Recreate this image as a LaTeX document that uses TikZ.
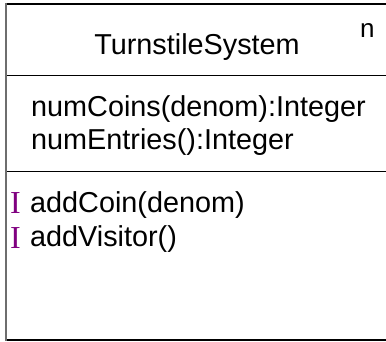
\documentclass[tikz,border=0pt]{standalone}
\usepackage{fontspec}
\setmainfont{Liberation Sans}
\newfontfamily\serifI{Liberation Serif}
\definecolor{umlpurple}{RGB}{128,0,128}
\definecolor{edgegray}{RGB}{110,110,110}
\begin{document}
\begin{tikzpicture}[x=1pt,y=-1pt,
  txt/.style={anchor=base west,inner sep=0pt,font=\fontsize{28.8}{30}\selectfont},
  imark/.style={anchor=base west,inner sep=0pt,text=umlpurple,font=\serifI\fontsize{32}{34}\selectfont}]
\useasboundingbox (0,0) rectangle (386,342);
\fill[white] (0,0) rectangle (386,342);
% box lines
\draw[black,line width=1.5pt] (6,4) -- (386,4);
\draw[black,line width=1pt] (6,75.5) -- (386,75.5);
\draw[black,line width=1pt] (6,172) -- (386,172);
\draw[black,line width=2pt] (6,340) -- (386,340);
\draw[edgegray,line width=2.4pt] (5.8,3.3) -- (5.8,341);
% texts
\node[anchor=base,inner sep=0pt,font=\fontsize{28.8}{30}\selectfont] (title) at (197,55) {TurnstileSystem};
\node[anchor=base west,inner sep=0pt,font=\fontsize{26}{28}\selectfont] (mult) at (360,38) {n};
\node[txt] (a1) at (31,117) {numCoins(denom):Integer};
\node[txt] (a2) at (31,150) {numEntries():Integer};
\node[imark] (i1) at (10,214) {I};
\node[txt] (o1) at (30,213) {addCoin(denom)};
\node[imark] (i2) at (10,248) {I};
\node[txt] (o2) at (30,247) {addVisitor()};
\end{tikzpicture}
\end{document}
